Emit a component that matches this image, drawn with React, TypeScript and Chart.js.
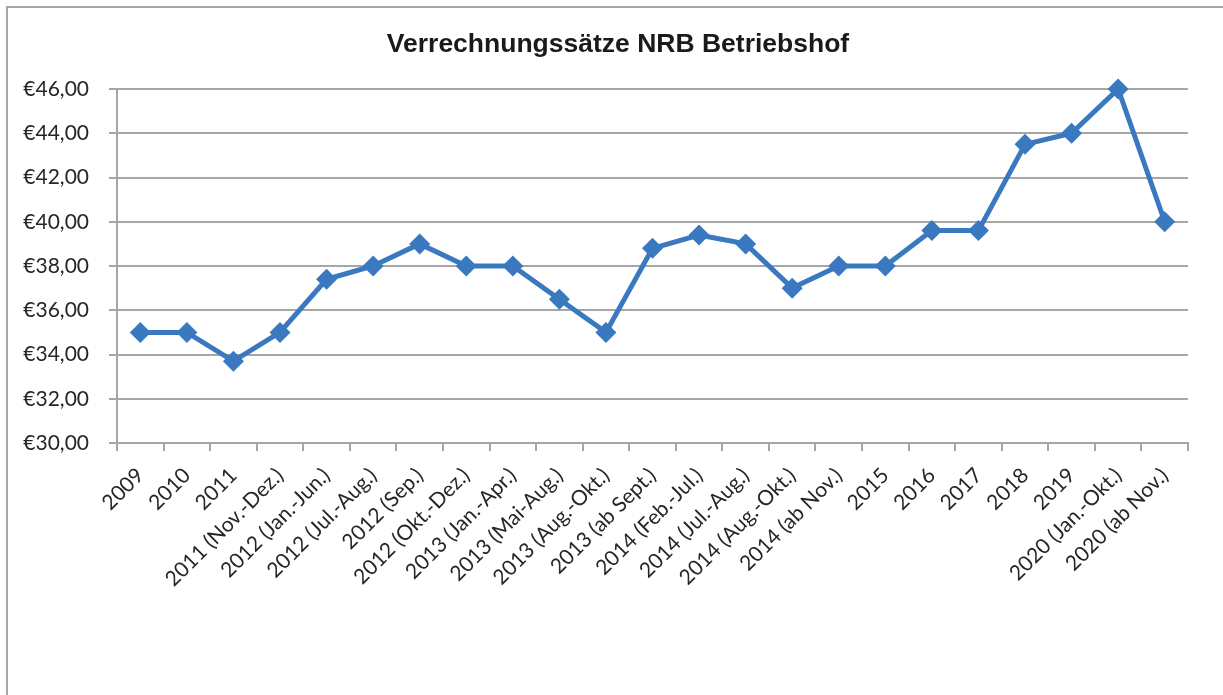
import React, { useEffect, useRef } from "react";
import { Chart, registerables } from "chart.js";

Chart.register(...registerables);

const TITLE = "Verrechnungssätze NRB Betriebshof";

const categories: string[] = [
  "2009",
  "2010",
  "2011",
  "2011 (Nov.-Dez.)",
  "2012 (Jan.-Jun.)",
  "2012 (Jul.-Aug.)",
  "2012 (Sep.)",
  "2012 (Okt.-Dez.)",
  "2013 (Jan.-Apr.)",
  "2013 (Mai-Aug.)",
  "2013 (Aug.-Okt.)",
  "2013 (ab Sept.)",
  "2014 (Feb.-Jul.)",
  "2014 (Jul.-Aug.)",
  "2014 (Aug.-Okt.)",
  "2014 (ab Nov.)",
  "2015",
  "2016",
  "2017",
  "2018",
  "2019",
  "2020 (Jan.-Okt.)",
  "2020 (ab Nov.)",
];

const rates: number[] = [
  35, 35, 33.7, 35, 37.4, 38, 39, 38, 38, 36.5, 35, 38.8, 39.4, 39, 37, 38,
  38, 39.6, 39.6, 43.5, 44, 46, 40,
];

const yMin = 30;
const yMax = 46;
const yStep = 2;

const W = 1223;
const H = 695;

const frameAndTitle = {
  id: "frameAndTitle",
  beforeDraw(chart: any) {
    const ctx = chart.ctx;
    ctx.save();
    ctx.strokeStyle = "#a6a6a6";
    ctx.lineWidth = 2;
    ctx.strokeRect(7, 7, W + 50, H + 50);
    ctx.restore();
  },
  afterDraw(chart: any) {
    const ctx = chart.ctx;
    ctx.save();
    ctx.fillStyle = "#1a1a1a";
    ctx.font = "bold 26.5px 'Liberation Sans', Arial, sans-serif";
    ctx.textAlign = "center";
    ctx.textBaseline = "alphabetic";
    ctx.fillText(TITLE, 618, 52);
    ctx.restore();
  },
};

export default function App() {
  const ref = useRef<HTMLCanvasElement | null>(null);

  useEffect(() => {
    document.body.style.margin = "0";
    const canvas = ref.current;
    if (!canvas) return;
    const chart = new Chart(canvas, {
      type: "line",
      data: {
        labels: categories,
        datasets: [
          {
            label: "Verrechnungssatz",
            data: rates,
            borderColor: "#3a78bf",
            backgroundColor: "#3a78bf",
            borderWidth: 5,
            pointStyle: "rectRot",
            pointRadius: 10.5,
            pointHoverRadius: 10.5,
            pointBorderWidth: 0,
            tension: 0,
            clip: false,
          },
        ],
      },
      options: {
        responsive: false,
        animation: false,
        devicePixelRatio: 1,
        layout: { padding: { top: 89, left: 0, right: 35, bottom: 0 } },
        plugins: {
          legend: { display: false },
          title: { display: false },
          tooltip: { enabled: false },
        },
        scales: {
          x: {
            type: "category",
            offset: true,
            grid: {
              offset: true,
              drawOnChartArea: false,
              drawTicks: true,
              tickLength: 8,
              color: "#a6a6a6",
              lineWidth: 2,
            },
            border: { display: true, color: "#a6a6a6", width: 2 },
            ticks: {
              autoSkip: false,
              minRotation: 45,
              maxRotation: 45,
              padding: 12,
              color: "#262626",
              font: { family: "Lato", size: 21 },
            },
            afterFit(scale: any) {
              scale.height = H - 443;
            },
          },
          y: {
            min: yMin,
            max: yMax,
            grid: {
              color: "#a6a6a6",
              lineWidth: 2,
              tickLength: 8,
            },
            border: { display: true, color: "#a6a6a6", width: 2 },
            ticks: {
              stepSize: yStep,
              padding: 20,
              color: "#262626",
              font: { family: "Lato", size: 21 },
              callback: (v: any) =>
                "€" + Number(v).toFixed(2).replace(".", ","),
            },
            afterFit(scale: any) {
              scale.width = 117;
            },
          },
        },
      },
      plugins: [frameAndTitle],
    });
    return () => chart.destroy();
  }, []);

  return (
    <div style={{ width: W, height: H }}>
      <canvas ref={ref} width={W} height={H} style={{ display: "block" }} />
    </div>
  );
}
